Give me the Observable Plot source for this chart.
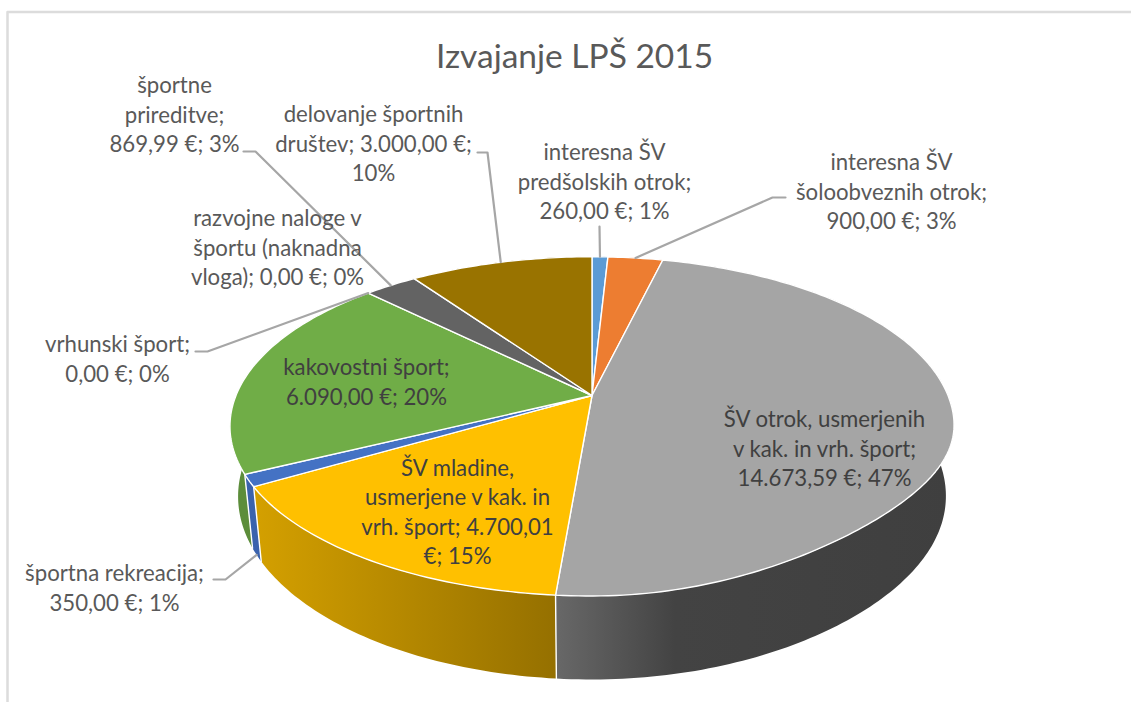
<!DOCTYPE html>
<html>
<head>
<meta charset="utf-8">
<style>
  html, body { margin: 0; padding: 0; background: #fff; overflow: hidden; }
  svg { display: block; }
</style>
<script src="https://cdn.jsdelivr.net/npm/d3@7"></script>
<script src="https://cdn.jsdelivr.net/npm/@observablehq/plot@0.6"></script>
</head>
<body>
<script>
// Data (clockwise from 12 o'clock)
const categories = [
  "interesna ŠV predšolskih otrok",
  "interesna ŠV šoloobveznih otrok",
  "ŠV otrok, usmerjenih v kak. in vrh. šport",
  "ŠV mladine, usmerjene v kak. in vrh. šport",
  "športna rekreacija",
  "kakovostni šport",
  "vrhunski šport",
  "razvojne naloge v športu (naknadna vloga)",
  "športne prireditve",
  "delovanje športnih društev"
];
const values = [260, 900, 14673.59, 4700.01, 350, 6090, 0, 0, 869.99, 3000];
const labels = [
  "interesna ŠV\npredšolskih otrok;\n260,00 €; 1%",
  "interesna ŠV\nšoloobveznih otrok;\n900,00 €; 3%",
  "ŠV otrok, usmerjenih\nv kak. in vrh. šport;\n14.673,59 €; 47%",
  "ŠV mladine,\nusmerjene v kak. in\nvrh. šport; 4.700,01\n€; 15%",
  "športna rekreacija;\n350,00 €; 1%",
  "kakovostni šport;\n6.090,00 €; 20%",
  "vrhunski šport;\n0,00 €; 0%",
  "razvojne naloge v\nšportu (naknadna\nvloga); 0,00 €; 0%",
  "športne\nprireditve;\n869,99 €; 3%",
  "delovanje športnih\ndruštev; 3.000,00 €;\n10%"
];
const topColors = ["#5B9BD5", "#ED7D31", "#A5A5A5", "#FFC000", "#4472C4", "#70AD47", "#264478", "#9E480E", "#636363", "#997300"];
const wallColors = ["#4A7FB0", "#C46628", "url(#wallGrey)", "url(#wallGold)", "#3A62AD", "#5C8D3A", "#1F3862", "#823B0B", "#525252", "#7E5F00"];
const title = "Izvajanje LPŠ 2015";

// Layout (chart units equal pixels through the x and y scales)
const labelX = [604, 891, 824, 457, 114, 366, 117, 277, 174, 373];
const labelY = [180, 190, 447, 510, 586, 380, 357, 246, 113, 142];
const labelInk = ["#595959", "#595959", "#404040", "#404040", "#595959", "#404040", "#595959", "#595959", "#595959", "#595959"];
const elbowFrom = [null, [785, 197], null, null, [213, 579], null, [195, 351], null, [243, 151], [477, 152]];
const elbowTo = [[599, 226], [772, 197], null, null, [225, 579], null, [207, 351], null, [255, 151], [487, 152]];
const rimOfLeader = ["top", "top", null, null, "bottom", null, "top", null, "top", "top"];

const topDisc = {cx: 591.5, cy: 395, a: 356, b: 164, k: 0.182, tilt: 12};
const bottomDisc = {cx: 591.5, cy: 462.6, a: 348, b: 177, k: 0.182, tilt: 3};

function project(disc, turn) {
  const t = turn * 2 * Math.PI, u = Math.sin(t), v = Math.cos(t), w = 1 + disc.k * v;
  // the lower right quarter of the reference's rim runs a little flatter than a true ellipse
  const flat = u > 0 && v < 0 ? (2 * u * v) ** 2 : 0;
  return [disc.cx + disc.a * u / w, disc.cy - disc.b * v / w - disc.tilt * flat];
}
function rim(disc, t0, t1) {
  const n = Math.max(2, Math.ceil((t1 - t0) * 360));
  return d3.range(n + 1).map(i => project(disc, t0 + (t1 - t0) * i / n));
}

const total = d3.sum(values);
const cumulative = d3.cumsum(values);
const slices = categories.map((name, i) => ({
  name, i,
  value: values[i],
  start: (cumulative[i] - values[i]) / total,
  end: cumulative[i] / total,
  mid: (cumulative[i] - values[i] / 2) / total
}));
const drawn = slices.filter(s => s.value > 0);

const xy = {x: d => d[0], y: d => d[1]};
const lineOptions = {...xy, stroke: "white", strokeWidth: 1.4, strokeLinejoin: "round"};

// Walls: all are overdrawn by the top face where it hides them
const wallMarks = drawn.map(s => {
  const upper = rim(topDisc, s.start, s.end);
  const lower = rim(bottomDisc, s.start, s.end).reverse();
  return Plot.line([...upper, ...lower, upper[0]], {...xy, stroke: "none", fill: wallColors[s.i]});
});
// White seams between the visible walls
const seamMarks = drawn
  .filter(s => project(topDisc, s.end)[1] > 427)
  .map(s => Plot.line([project(topDisc, s.end), project(bottomDisc, s.end)], lineOptions));

// Top face
const topMarks = drawn.map(s => {
  const apex = [topDisc.cx, topDisc.cy];
  return Plot.line([apex, ...rim(topDisc, s.start, s.end), apex], {...lineOptions, fill: topColors[s.i]});
});

// Leader lines
const leaderMarks = slices.filter(s => rimOfLeader[s.i]).map(s => {
  const end = project(rimOfLeader[s.i] === "top" ? topDisc : bottomDisc, s.mid);
  const pts = (elbowFrom[s.i] ? [elbowFrom[s.i]] : []).concat([elbowTo[s.i], end]);
  return Plot.line(pts, {...xy, stroke: "#A6A6A6", strokeWidth: 2.2, strokeLinejoin: "round"});
});

const labelRows = slices.map(s => ({text: labels[s.i], x: labelX[s.i], y: labelY[s.i], ink: labelInk[s.i]}));

const chart = Plot.plot({
  width: 1131,
  height: 702,
  margin: 0,
  style: {background: "white", fontFamily: "Lato, sans-serif"},
  x: {domain: [0, 1131], range: [0, 1131], axis: null},
  y: {domain: [0, 702], range: [0, 702], axis: null},
  marks: [
    Plot.line([[7, 702], [7, 11.5], [1131, 11.5]], {...xy, stroke: "#DCDCDC", strokeWidth: 2.5, strokeLinecap: "butt"}),
    ...wallMarks,
    ...seamMarks,
    ...topMarks,
    ...leaderMarks,
    Plot.text(labelRows, {
      x: "x", y: "y", text: "text", fill: d => d.ink,
      fontSize: 22.2, lineHeight: 1.33, textAnchor: "middle", lineAnchor: "middle"
    }),
    Plot.text([title], {
      x: [574], y: [57], text: d => d, fill: "#595959",
      fontSize: 33.5, textAnchor: "middle", lineAnchor: "middle"
    })
  ]
});

const defs = d3.select(chart).insert("defs", ":first-child");
const addGradient = (id, stops) => {
  const g = defs.append("linearGradient").attr("id", id).attr("x1", 0).attr("x2", 1).attr("y1", 0).attr("y2", 0);
  stops.forEach(([offset, color]) => g.append("stop").attr("offset", offset).attr("stop-color", color));
};
addGradient("wallGrey", [[0, "#686868"], [0.3, "#434343"], [1, "#3F3F3F"]]);
addGradient("wallGold", [[0, "#D4A000"], [1, "#957000"]]);

document.body.appendChild(chart);
</script>
</body>
</html>
